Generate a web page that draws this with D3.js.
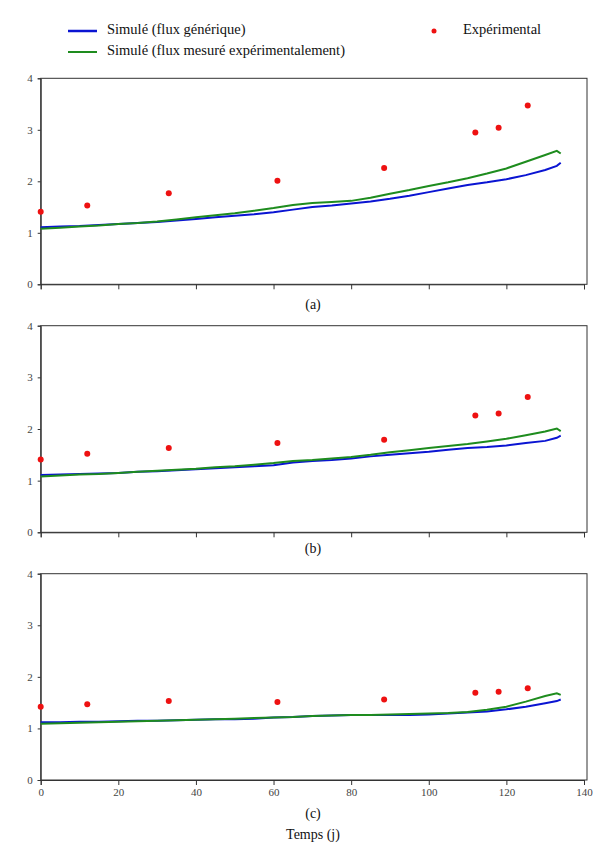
<!DOCTYPE html>
<html><head><meta charset="utf-8">
<script src="https://cdn.jsdelivr.net/npm/d3@7"></script>
<style>body{margin:0;background:#fff}svg{display:block}svg text{font-family:"Liberation Serif","Times New Roman","DejaVu Serif",serif}</style>
</head><body>
<svg id="c" width="594" height="854"></svg>
<script>
const days = [0,5,10,15,20,25,30,35,40,45,50,55,60,65,70,75,80,85,90,95,100,105,110,115,120,125,130,133,134];
const aBlue  = [1.11,1.12,1.13,1.15,1.17,1.19,1.21,1.24,1.27,1.30,1.33,1.36,1.40,1.45,1.50,1.53,1.57,1.61,1.66,1.72,1.79,1.86,1.93,1.98,2.04,2.12,2.22,2.30,2.36];
const aGreen = [1.08,1.10,1.12,1.14,1.17,1.19,1.22,1.26,1.30,1.34,1.38,1.43,1.48,1.54,1.58,1.60,1.62,1.68,1.76,1.83,1.91,1.98,2.06,2.15,2.25,2.38,2.51,2.59,2.54];
const bBlue  = [1.11,1.12,1.13,1.14,1.15,1.17,1.18,1.20,1.22,1.24,1.26,1.28,1.30,1.35,1.38,1.40,1.43,1.47,1.50,1.53,1.56,1.60,1.63,1.65,1.68,1.73,1.77,1.83,1.87];
const bGreen = [1.08,1.10,1.12,1.13,1.15,1.17,1.19,1.21,1.23,1.26,1.28,1.31,1.34,1.38,1.40,1.43,1.46,1.50,1.55,1.59,1.63,1.67,1.71,1.76,1.81,1.88,1.95,2.01,1.96];
const cBlue  = [1.12,1.12,1.13,1.13,1.14,1.15,1.15,1.16,1.17,1.18,1.18,1.19,1.21,1.22,1.24,1.25,1.26,1.26,1.26,1.26,1.27,1.29,1.31,1.33,1.37,1.42,1.49,1.53,1.56];
const cGreen = [1.09,1.10,1.11,1.12,1.13,1.14,1.15,1.16,1.17,1.18,1.19,1.20,1.21,1.22,1.24,1.25,1.26,1.26,1.27,1.28,1.29,1.30,1.32,1.36,1.42,1.52,1.63,1.68,1.65];
const expDays = [0,12,33,61,88.5,112,118,125.5];
const aExp = [1.41,1.53,1.77,2.01,2.26,2.95,3.04,3.47];
const bExp = [1.41,1.52,1.63,1.73,1.79,2.26,2.30,2.62];
const cExp = [1.42,1.47,1.53,1.51,1.56,1.69,1.71,1.78];
const xTicks = [0,20,40,60,80,100,120,140];
const yTicks = [0,1,2,3,4];
const panelLabels = ["(a)","(b)","(c)"];
const legendLabels = ["Simulé (flux générique)","Simulé (flux mesuré expérimentalement)","Expérimental"];
const xTitle = "Temps (j)";

const svg = d3.select("#c");
const FONT = '"Liberation Serif","Times New Roman","DejaVu Serif",serif';
const BLUE = "#0a14d2", GREEN = "#1e8c1e", RED = "#ee1111";
const left = 40.7, right = 587;
const x = d3.scaleLinear().domain([0,140]).range([left, 584]);

const panels = [
  {top:78.3, bottom:284.3, blue:aBlue, green:aGreen, exp:aExp, labY:306, labels:false},
  {top:325.7, bottom:532.3, blue:bBlue, green:bGreen, exp:bExp, labY:550, labels:false},
  {top:573.7, bottom:780, blue:cBlue, green:cGreen, exp:cExp, labY:815, labels:true}
];

panels.forEach((p,i)=>{
  const y = d3.scaleLinear().domain([0,4]).range([p.bottom,p.top]);
  const g = svg.append("g");
  g.append("rect").attr("x",left).attr("y",p.top).attr("width",right-left).attr("height",p.bottom-p.top)
    .attr("fill","none").attr("stroke","#333").attr("stroke-width",1);
  const xa = d3.axisBottom(x).tickValues(xTicks).tickSize(5).tickPadding(3)
    .tickFormat(p.labels ? d3.format("d") : "");
  const gx = g.append("g").attr("transform",`translate(0,${p.bottom})`).call(xa);
  const ya = d3.axisLeft(y).tickValues(yTicks).tickSize(3).tickPadding(5).tickFormat(d3.format("d"));
  const gy = g.append("g").attr("transform",`translate(${left},0)`).call(ya);
  [gx,gy].forEach(a=>{
    a.attr("font-family",null);
    a.select(".domain").attr("stroke","#333");
    a.selectAll(".tick line").attr("stroke","#333");
    a.selectAll("text").style("font-family",FONT).attr("font-size",11).attr("fill","#444");
  });
  const line = d3.line().x((d,j)=>x(days[j])).y(d=>y(d));
  g.append("path").datum(p.blue).attr("d",line).attr("fill","none").attr("stroke",BLUE).attr("stroke-width",2);
  g.append("path").datum(p.green).attr("d",line).attr("fill","none").attr("stroke",GREEN).attr("stroke-width",2);
  g.selectAll("circle.e").data(p.exp).join("circle").attr("class","e")
    .attr("cx",(d,j)=>x(expDays[j])).attr("cy",d=>y(d)).attr("r",3).attr("fill",RED);
  svg.append("text").attr("x",313).attr("y",p.labY).attr("text-anchor","middle").attr("dominant-baseline","middle")
    .style("font-family",FONT).attr("font-size",14).attr("fill","#111").text(panelLabels[i]);
});

svg.append("text").attr("x",313).attr("y",836).attr("text-anchor","middle").attr("dominant-baseline","middle")
  .style("font-family",FONT).attr("font-size",14).attr("fill","#111").text(xTitle);

const lg = svg.append("g");
lg.append("line").attr("x1",68).attr("x2",97).attr("y1",31).attr("y2",31).attr("stroke",BLUE).attr("stroke-width",2.5);
lg.append("line").attr("x1",68).attr("x2",97).attr("y1",52).attr("y2",52).attr("stroke",GREEN).attr("stroke-width",2);
lg.append("circle").attr("cx",434).attr("cy",31).attr("r",2.5).attr("fill",RED);
[[107,31,legendLabels[0]],[107,52,legendLabels[1]],[463,31,legendLabels[2]]].forEach(([tx,ty,t])=>{
  lg.append("text").attr("x",tx).attr("y",ty).attr("dominant-baseline","middle")
    .style("font-family",FONT).attr("font-size",14.5).attr("fill","#111").text(t);
});
</script>
</body></html>
